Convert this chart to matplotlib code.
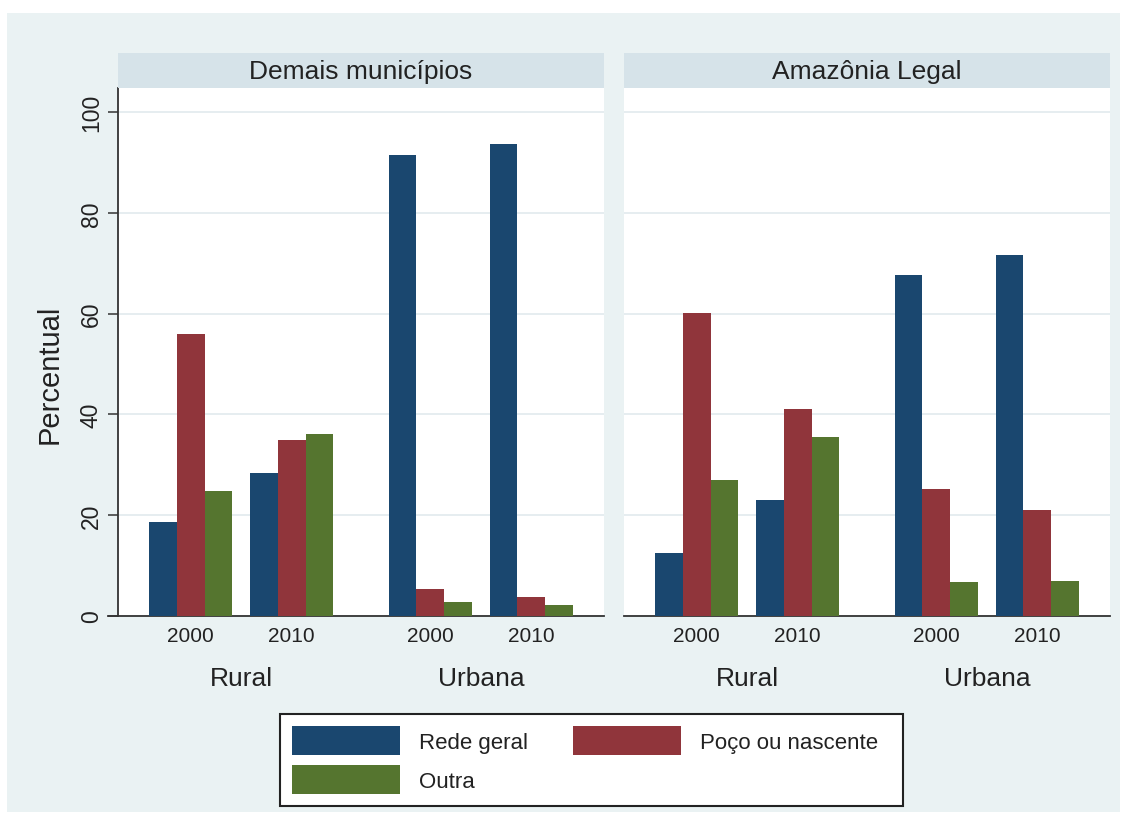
import matplotlib
matplotlib.use("Agg")
import matplotlib.pyplot as plt
import matplotlib.transforms as mtransforms
from matplotlib.patches import Rectangle, Patch

plt.rcParams['font.family'] = ['Liberation Sans', 'DejaVu Sans']

# --- data -------------------------------------------------------------
panels = ["Demais municípios", "Amazônia Legal"]
areas = ["Rural", "Urbana"]
years = ["2000", "2010"]
series = ["Rede geral", "Poço ou nascente", "Outra"]

# order within each list: Rural 2000, Rural 2010, Urbana 2000, Urbana 2010
demais_rede = [18.7, 28.3, 91.5, 93.7]
demais_poco = [55.9, 35.0, 5.4, 3.7]
demais_outra = [24.8, 36.2, 2.7, 2.2]

amazonia_rede = [12.5, 23.0, 67.6, 71.7]
amazonia_poco = [60.2, 41.0, 25.3, 21.0]
amazonia_outra = [27.0, 35.5, 6.7, 6.9]

yticks = [0, 20, 40, 60, 80, 100]
ytop = 104.8
ylabel = "Percentual"

# --- style ------------------------------------------------------------
colors = ["#1A476F", "#90353B", "#55752F"]
bg = "#EAF2F3"
strip_bg = "#D6E3E9"
grid_c = "#E4ECEF"
axis_c = "#333333"
text_c = "#222222"

W, H = 1127, 820
fig = plt.figure(figsize=(W / 100, H / 100), dpi=100)
fig.patch.set_facecolor("white")


def fx(x):
    return x / W


def fy(y):
    return 1 - y / H


# graph region
fig.add_artist(Rectangle((fx(7), fy(813)), (1120 - 7) / W, (813 - 14) / H,
                         transform=fig.transFigure, facecolor=bg,
                         edgecolor="none", zorder=-10))

# bar layout (in bar-width units)
margin, year_gap, area_gap = 1.12, 0.64, 2.0
group_left = []
pos = margin
for a in range(len(areas)):
    for y in range(len(years)):
        group_left.append(pos)
        pos += 3
        if y < len(years) - 1:
            pos += year_gap
    if a < len(areas) - 1:
        pos += area_gap
xmax = pos + margin
group_centers = [g + 1.5 for g in group_left]

panel_data = [
    [demais_rede, demais_poco, demais_outra],
    [amazonia_rede, amazonia_poco, amazonia_outra],
]
panel_left_px = [118, 624]
panel_w_px = 486
top_px, bottom_px = 89, 617
strip_top_px = 54

for p, (title, data) in enumerate(zip(panels, panel_data)):
    left = panel_left_px[p]
    ax = fig.add_axes([fx(left), fy(bottom_px), panel_w_px / W,
                       (bottom_px - top_px) / H])
    ax.set_facecolor("white")
    for s, vals in enumerate(data):
        xs = [g + s + 0.5 for g in group_left]
        ax.bar(xs, vals, width=1.0, color=colors[s], edgecolor="none",
               zorder=3)
    ax.set_xlim(0, xmax)
    ax.set_ylim(0, ytop)
    ax.set_yticks(yticks)
    ax.yaxis.grid(True, color=grid_c, linewidth=1.3, zorder=0)
    ax.set_axisbelow(True)
    for sp in ["top", "right"]:
        ax.spines[sp].set_visible(False)
    ax.spines["bottom"].set_color(axis_c)
    ax.spines["bottom"].set_linewidth(1.3)
    ax.spines["left"].set_color(axis_c)
    ax.spines["left"].set_linewidth(1.3)
    ax.set_xticks(group_centers)
    ax.set_xticklabels(years * len(areas), fontsize=15, color=text_c)
    ax.tick_params(axis="x", length=0, pad=7)
    if p == 0:
        ax.tick_params(axis="y", length=7.2, width=1.1, color=axis_c,
                       labelsize=16.5, labelcolor=text_c, pad=3.6)
        for lab in ax.get_yticklabels():
            lab.set_rotation(90)
            lab.set_va("center")
        ax.spines["bottom"].set_bounds(-10 / panel_w_px * xmax, xmax)
    else:
        ax.spines["left"].set_visible(False)
        ax.tick_params(axis="y", length=0, labelleft=False)

    # area labels under each pair of year groups
    trans = mtransforms.blended_transform_factory(ax.transData,
                                                  fig.transFigure)
    for a, name in enumerate(areas):
        cx = (group_centers[2 * a] + group_centers[2 * a + 1]) / 2
        ax.text(cx, fy(679), name, transform=trans, ha="center",
                va="center", fontsize=19, color=text_c)

    # panel title strip
    sax = fig.add_axes([fx(left), fy(top_px), panel_w_px / W,
                        (top_px - strip_top_px) / H])
    sax.set_facecolor(strip_bg)
    sax.set_xticks([])
    sax.set_yticks([])
    for sp in sax.spines.values():
        sp.set_visible(False)
    sax.text(0.5, 0.5, title, ha="center", va="center", fontsize=19,
             color=text_c, transform=sax.transAxes)

fig.text(fx(50), fy(374), ylabel, rotation=90, ha="center", va="center",
         fontsize=21, color=text_c)

# legend box and entries
fig.add_artist(Rectangle((fx(280), fy(807)), (903 - 280) / W,
                         (807 - 715) / H, transform=fig.transFigure,
                         facecolor="white", edgecolor="#222222",
                         linewidth=1.5, zorder=4))
handles = [Patch(facecolor=c, edgecolor="none") for c in colors]
order = [0, 2, 1]
leg = fig.legend([handles[i] for i in order], [series[i] for i in order],
                 ncol=2, loc="center left",
                 bbox_to_anchor=(fx(280), fy(761)),
                 bbox_transform=fig.transFigure,
                 fontsize=16, frameon=False,
                 handlelength=4.86, handleheight=1.6, handletextpad=0.86,
                 columnspacing=2.0, labelspacing=0.45, borderpad=0.54,
                 borderaxespad=0)
leg.set_zorder(5)
for t in leg.get_texts():
    t.set_color(text_c)

fig.savefig("out.png", dpi=100, facecolor=fig.get_facecolor())
